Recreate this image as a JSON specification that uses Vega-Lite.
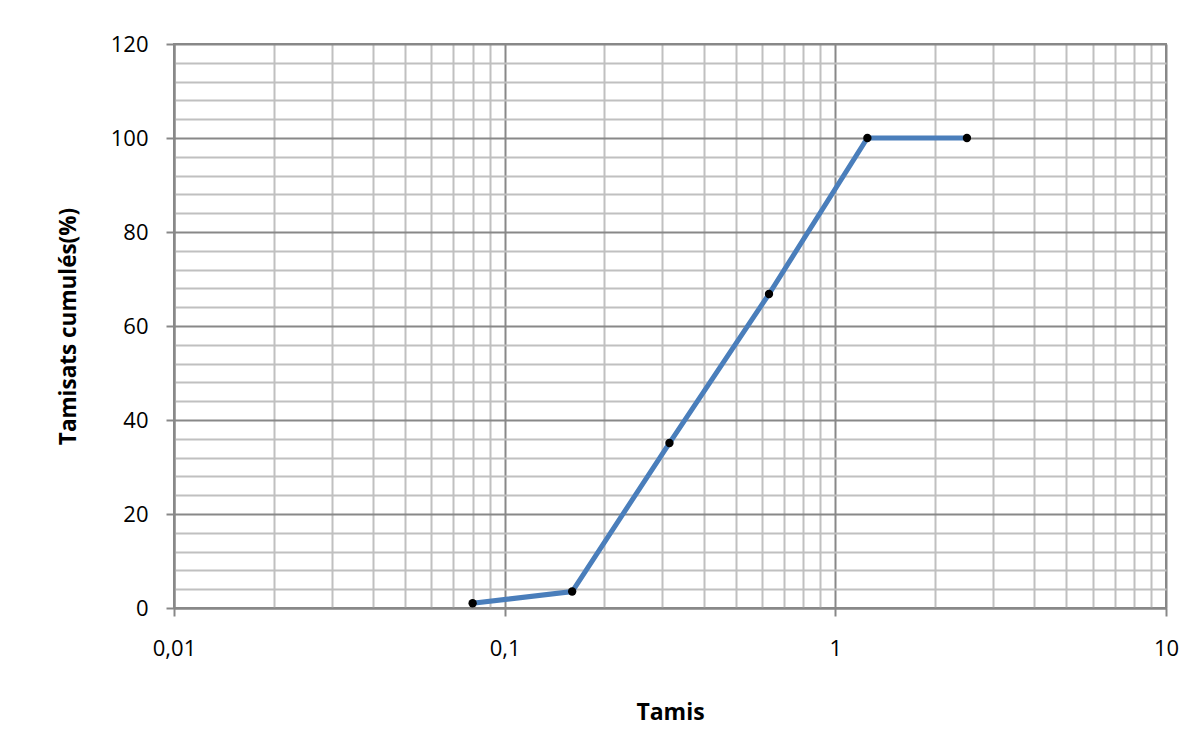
{
  "$schema": "https://vega.github.io/schema/vega-lite/v6.json",
  "autosize": "none",
  "width": 992,
  "height": 564,
  "padding": {"left": 174, "top": 44, "right": 35, "bottom": 147},
  "background": "white",
  "config": {
    "font": "Open Sans",
    "view": {"stroke": "#888888", "strokeWidth": 2}
  },
  "data": {
    "values": [
      {"tamis": 0.08, "cumul": 1.0},
      {"tamis": 0.16, "cumul": 3.5},
      {"tamis": 0.315, "cumul": 35.1},
      {"tamis": 0.63, "cumul": 66.8},
      {"tamis": 1.25, "cumul": 100},
      {"tamis": 2.5, "cumul": 100}
    ]
  },
  "encoding": {
    "x": {
      "field": "tamis",
      "type": "quantitative",
      "scale": {"type": "log", "domain": [0.01, 10], "nice": false},
      "axis": {
        "title": "Tamis",
        "titleFont": "Open Sans",
        "titleFontSize": 23,
        "titleFontWeight": "bold",
        "titleColor": "#000000",
        "titleBaseline": "middle",
        "titleY": 104,
        "values": [0.01, 0.02, 0.03, 0.04, 0.05, 0.06, 0.07, 0.08, 0.09, 0.1, 0.2, 0.3, 0.4, 0.5, 0.6, 0.7, 0.8, 0.9, 1, 2, 3, 4, 5, 6, 7, 8, 9, 10],
        "labelExpr": "datum.value == 0.01 ? '0,01' : datum.value == 0.1 ? '0,1' : datum.value == 1 ? '1' : datum.value == 10 ? '10' : ''",
        "labelFontSize": 22,
        "labelColor": "#000000",
        "labelPadding": 22,
        "labelFlush": false,
        "labelOverlap": false,
        "domainColor": "#888888",
        "domainWidth": 2,
        "tickSize": 8,
        "tickWidth": 2,
        "tickColor": "#888888",
        "tickOpacity": {"condition": {"test": "datum.value == 0.01 || datum.value == 0.1 || datum.value == 1 || datum.value == 10", "value": 1}, "value": 0},
        "grid": true,
        "gridColor": {"condition": {"test": "datum.value == 0.01 || datum.value == 0.1 || datum.value == 1 || datum.value == 10", "value": "#888888"}, "value": "#c0c0c0"},
        "gridWidth": 2,
        "gridOpacity": 1
      }
    },
    "y": {
      "field": "cumul",
      "type": "quantitative",
      "scale": {"domain": [0, 120], "nice": false},
      "axis": {
        "title": "Tamisats cumulés(%)",
        "titleFont": "Open Sans",
        "titleFontSize": 22.5,
        "titleFontWeight": "bold",
        "titleColor": "#000000",
        "titleBaseline": "middle",
        "titleX": -106,
        "values": [0, 4, 8, 12, 16, 20, 24, 28, 32, 36, 40, 44, 48, 52, 56, 60, 64, 68, 72, 76, 80, 84, 88, 92, 96, 100, 104, 108, 112, 116, 120],
        "labelExpr": "datum.value % 20 === 0 ? datum.value : ''",
        "labelFontSize": 22,
        "labelColor": "#000000",
        "labelPadding": 18,
        "labelFlush": false,
        "labelOverlap": false,
        "labelBaseline": "middle",
        "domainColor": "#888888",
        "domainWidth": 2,
        "tickSize": 8,
        "tickWidth": 2,
        "tickColor": "#888888",
        "tickOpacity": {"condition": {"test": "datum.value % 20 === 0", "value": 1}, "value": 0},
        "grid": true,
        "gridColor": {"condition": {"test": "datum.value % 20 === 0", "value": "#888888"}, "value": "#c0c0c0"},
        "gridWidth": 2,
        "gridOpacity": 1
      }
    }
  },
  "layer": [
    {"mark": {"type": "line", "color": "#4a7ebb", "strokeWidth": 5}},
    {"mark": {"type": "point", "filled": true, "color": "#000000", "opacity": 1, "size": 70, "shape": "circle"}}
  ]
}
